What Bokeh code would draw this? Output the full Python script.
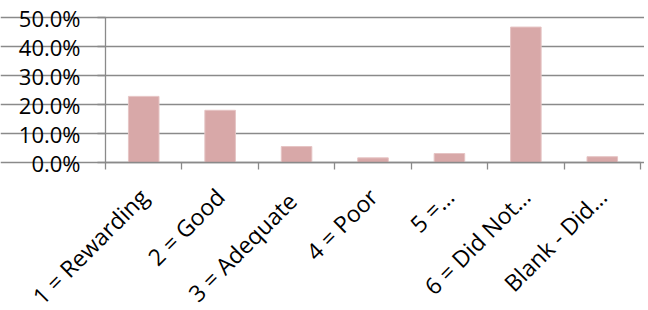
import math
from bokeh.plotting import figure
from bokeh.models import (Range1d, LinearAxis, FixedTicker, NumeralTickFormatter,
                          ColumnDataSource)
from bokeh.embed import file_html
from bokeh.resources import INLINE

categories = ["1 = Rewarding", "2 = Good", "3 =  Adequate", "4 = Poor",
              "5 =…", "6 = Did Not…", "Blank - Did…"]
shares = [0.228, 0.180, 0.055, 0.016, 0.031, 0.467, 0.020]
y_ticks = [0.0, 0.1, 0.2, 0.3, 0.4, 0.5]

FONT = "Open Sans"
GRID = "#8a8a8a"

n = len(categories)
centers = [i + 0.5 for i in range(n)]
bounds = list(range(n + 1))
src = ColumnDataSource(dict(x=centers, val=shares))

# The frame fills the whole figure; both axes are pinned at 0 so their
# (rotated) labels have room inside the frame.  Pixel layout:
# plot area x 105..640, y 17..162 in a 644x310 figure.
W, H = 644, 310
PX_X = (640 - 105) / n            # px per category
PX_Y = (162 - 17) / y_ticks[-1]   # px per unit share
x_rng = Range1d(-105 / PX_X, n + (W - 640) / PX_X)
y_rng = Range1d(-(H - 162) / PX_Y, y_ticks[-1] + 17 / PX_Y)

p = figure(width=W, height=H, output_backend="svg", toolbar_location=None,
           x_range=x_rng, y_range=y_rng,
           x_axis_location=None, y_axis_location=None, min_border=0)
p.outline_line_color = None
p.background_fill_color = "white"
p.border_fill_color = "white"

p.vbar(x="x", top="val", width=0.4, source=src,
       fill_color="#D8A8A8", line_color="#E6C4C4", line_width=1)

# value axis
ya = LinearAxis(ticker=FixedTicker(ticks=y_ticks), fixed_location=0,
                bounds=(y_ticks[0], y_ticks[-1]))
ya.formatter = NumeralTickFormatter(format="0.0%")
ya.axis_line_color = GRID
ya.axis_line_width = 1.3
ya.major_tick_line_color = GRID
ya.major_tick_line_width = 1.3
ya.major_tick_out = 8
ya.major_tick_in = 0
ya.minor_tick_line_color = None
ya.major_label_standoff = 17
ya.major_label_text_font = FONT
ya.major_label_text_font_size = "22px"
ya.major_label_text_color = "#000000"
p.add_layout(ya, "left")

p.ygrid.ticker = FixedTicker(ticks=y_ticks)
p.ygrid.bounds = (0, n)
p.ygrid.grid_line_color = GRID
p.ygrid.grid_line_width = 1.3
p.xgrid.grid_line_color = None

# category axis: labels at centres, tick marks at category boundaries
cx = LinearAxis(ticker=FixedTicker(ticks=centers, minor_ticks=bounds),
                fixed_location=y_ticks[0], bounds=(0, n))
cx.major_label_overrides = {c: lab for c, lab in zip(centers, categories)}
cx.axis_line_color = GRID
cx.axis_line_width = 1.3
cx.major_tick_line_color = None
cx.major_tick_out = 0
cx.major_tick_in = 0
cx.minor_tick_line_color = GRID
cx.minor_tick_line_width = 1.3
cx.minor_tick_out = 7
cx.minor_tick_in = 0
cx.major_label_orientation = math.pi / 4
cx.major_label_standoff = 23
cx.major_label_text_font = FONT
cx.major_label_text_font_size = "23px"
cx.major_label_text_color = "#000000"
p.add_layout(cx, "below")

open("out.html", "w").write(file_html(p, INLINE))
